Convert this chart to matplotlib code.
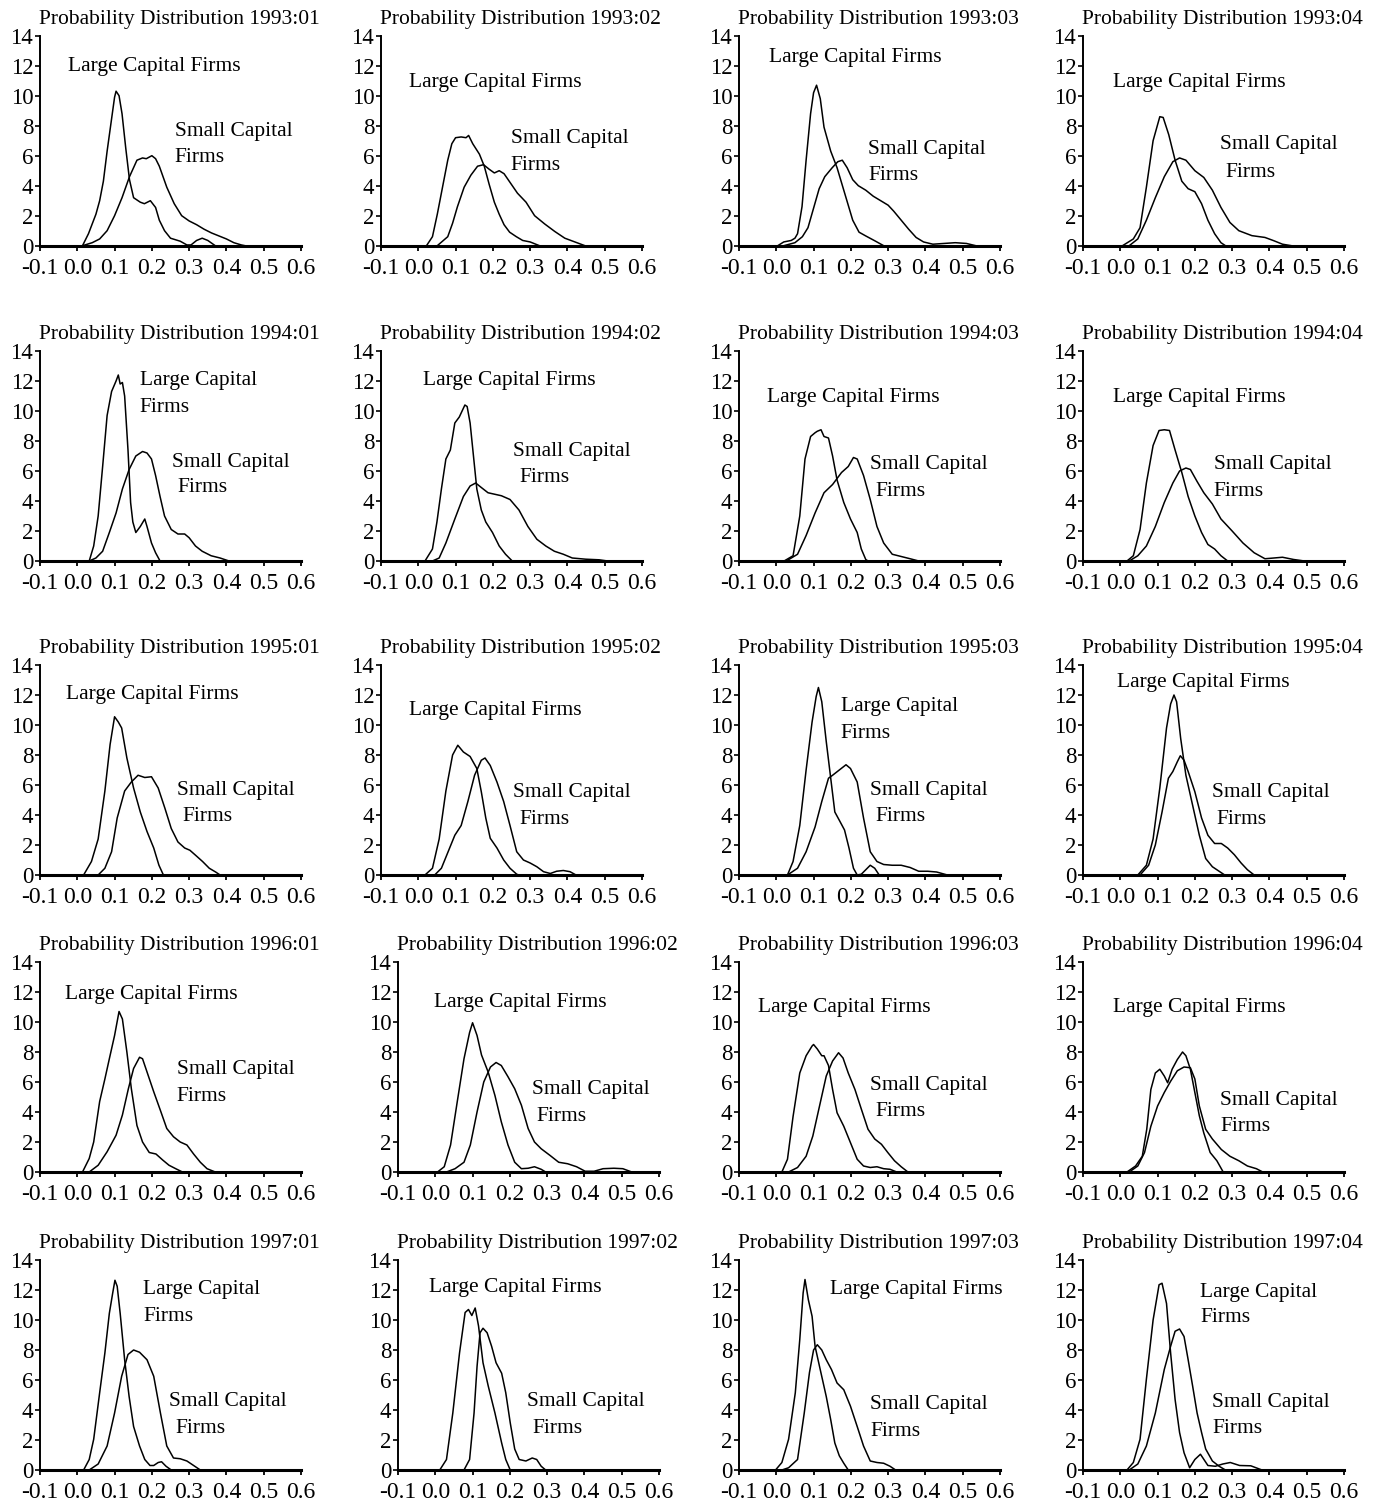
import matplotlib.pyplot as plt
from matplotlib.transforms import offset_copy

plt.rcParams['font.family'] = ['Liberation Serif', 'DejaVu Serif']
plt.rcParams['axes.unicode_minus'] = False

quarters = ['1993:01', '1993:02', '1993:03', '1993:04',
            '1994:01', '1994:02', '1994:03', '1994:04',
            '1995:01', '1995:02', '1995:03', '1995:04',
            '1996:01', '1996:02', '1996:03', '1996:04',
            '1997:01', '1997:02', '1997:03', '1997:04']

# ---- density curves (x = return, y = density) ----
q9301_large_x = [0.014, 0.03, 0.05, 0.06, 0.07, 0.08, 0.09, 0.1, 0.104, 0.112, 0.12, 0.13, 0.14, 0.151, 0.169, 0.18, 0.196, 0.21, 0.22, 0.234, 0.25, 0.276, 0.294, 0.305, 0.32, 0.335, 0.35, 0.37]
q9301_large_y = [0, 0.8, 2.1, 3.0, 4.3, 6.3, 8.1, 9.9, 10.3, 10.0, 8.8, 6.5, 4.4, 3.2, 2.9, 2.8, 3.0, 2.55, 1.7, 1.0, 0.5, 0.3, 0.05, 0.05, 0.35, 0.5, 0.35, 0]
q9301_small_x = [0.014, 0.04, 0.06, 0.08, 0.1, 0.12, 0.14, 0.16, 0.175, 0.185, 0.2, 0.21, 0.22, 0.24, 0.26, 0.28, 0.3, 0.32, 0.34, 0.36, 0.38, 0.4, 0.42, 0.44, 0.45]
q9301_small_y = [0, 0.2, 0.45, 1.0, 2.0, 3.2, 4.6, 5.7, 5.85, 5.8, 6.0, 5.8, 5.3, 3.9, 2.8, 2.0, 1.65, 1.4, 1.1, 0.85, 0.65, 0.45, 0.2, 0.05, 0]

q9302_large_x = [0.022, 0.038, 0.051, 0.065, 0.079, 0.09, 0.1, 0.115, 0.128, 0.135, 0.146, 0.164, 0.177, 0.19, 0.204, 0.217, 0.23, 0.245, 0.263, 0.28, 0.3, 0.325]
q9302_large_y = [0, 0.6, 2.1, 3.9, 5.7, 6.8, 7.2, 7.25, 7.2, 7.35, 6.8, 6.1, 5.3, 4.1, 2.9, 2.1, 1.4, 0.9, 0.6, 0.35, 0.25, 0]
q9302_small_x = [0.051, 0.065, 0.079, 0.092, 0.105, 0.123, 0.141, 0.159, 0.175, 0.19, 0.204, 0.217, 0.23, 0.248, 0.266, 0.289, 0.312, 0.339, 0.366, 0.393, 0.42, 0.447]
q9302_small_y = [0, 0.3, 0.6, 1.5, 2.6, 3.9, 4.7, 5.3, 5.4, 5.1, 4.85, 5.0, 4.8, 4.15, 3.5, 2.9, 2.0, 1.45, 0.95, 0.5, 0.25, 0]

q9303_large_x = [0.004, 0.02, 0.04, 0.05, 0.057, 0.069, 0.08, 0.092, 0.1, 0.108, 0.118, 0.128, 0.146, 0.163, 0.187, 0.205, 0.222, 0.24, 0.264, 0.288]
q9303_large_y = [0, 0.25, 0.35, 0.5, 0.8, 2.6, 5.7, 8.8, 10.2, 10.7, 9.8, 7.9, 6.3, 5.2, 3.2, 1.7, 0.9, 0.65, 0.33, 0]
q9303_small_x = [0.02, 0.05, 0.07, 0.085, 0.1, 0.115, 0.13, 0.15, 0.165, 0.177, 0.19, 0.205, 0.22, 0.24, 0.26, 0.28, 0.3, 0.315, 0.335, 0.355, 0.375, 0.395, 0.42, 0.45, 0.48, 0.51, 0.535]
q9303_small_y = [0, 0.2, 0.6, 1.2, 2.5, 3.8, 4.6, 5.2, 5.6, 5.7, 5.2, 4.4, 4.0, 3.7, 3.3, 3.0, 2.7, 2.3, 1.7, 1.1, 0.55, 0.25, 0.1, 0.15, 0.2, 0.15, 0]

q9304_large_x = [0.006, 0.035, 0.053, 0.07, 0.088, 0.106, 0.115, 0.13, 0.147, 0.165, 0.182, 0.2, 0.218, 0.235, 0.253, 0.27, 0.282]
q9304_large_y = [0, 0.45, 1.2, 3.9, 7.0, 8.6, 8.55, 7.4, 5.7, 4.3, 3.8, 3.6, 2.8, 1.7, 0.8, 0.2, 0]
q9304_small_x = [0.024, 0.047, 0.07, 0.094, 0.118, 0.141, 0.159, 0.176, 0.2, 0.224, 0.247, 0.27, 0.294, 0.318, 0.353, 0.388, 0.412, 0.435, 0.459]
q9304_small_y = [0, 0.45, 1.7, 3.2, 4.6, 5.6, 5.85, 5.7, 5.0, 4.55, 3.7, 2.55, 1.55, 1.0, 0.67, 0.55, 0.33, 0.1, 0]

q9401_large_x = [0.032, 0.044, 0.056, 0.068, 0.08, 0.092, 0.104, 0.11, 0.115, 0.121, 0.127, 0.136, 0.143, 0.149, 0.157, 0.169, 0.181, 0.187, 0.199, 0.21, 0.222]
q9401_large_y = [0, 1.0, 3.0, 6.3, 9.7, 11.3, 12.0, 12.4, 11.8, 11.9, 11.0, 7.4, 3.9, 2.6, 1.9, 2.3, 2.8, 2.3, 1.2, 0.55, 0]
q9401_small_x = [0.032, 0.05, 0.068, 0.086, 0.104, 0.121, 0.139, 0.157, 0.175, 0.187, 0.199, 0.21, 0.222, 0.234, 0.252, 0.27, 0.288, 0.3, 0.317, 0.335, 0.359, 0.383, 0.407]
q9401_small_y = [0, 0.2, 0.65, 1.9, 3.2, 4.8, 6.1, 7.0, 7.3, 7.2, 6.8, 5.7, 4.3, 3.0, 2.1, 1.8, 1.8, 1.55, 1.0, 0.65, 0.35, 0.2, 0]

q9402_large_x = [0.018, 0.038, 0.05, 0.062, 0.074, 0.086, 0.098, 0.11, 0.125, 0.131, 0.139, 0.148, 0.157, 0.169, 0.181, 0.199, 0.217, 0.234, 0.252]
q9402_large_y = [0, 0.8, 2.6, 4.8, 6.8, 7.4, 9.2, 9.6, 10.4, 10.3, 9.2, 7.0, 4.8, 3.4, 2.6, 1.9, 1.0, 0.45, 0]
q9402_small_x = [0.038, 0.056, 0.074, 0.098, 0.121, 0.139, 0.154, 0.169, 0.187, 0.205, 0.223, 0.246, 0.27, 0.294, 0.318, 0.342, 0.365, 0.389, 0.413, 0.449, 0.485, 0.508]
q9402_small_y = [0, 0.2, 1.2, 2.8, 4.3, 5.0, 5.2, 4.9, 4.55, 4.45, 4.35, 4.1, 3.4, 2.3, 1.45, 1.0, 0.65, 0.45, 0.2, 0.12, 0.08, 0]

q9403_large_x = [0.021, 0.045, 0.063, 0.077, 0.092, 0.104, 0.11, 0.12, 0.128, 0.14, 0.151, 0.163, 0.181, 0.199, 0.217, 0.228, 0.24, 0.246]
q9403_large_y = [0, 0.35, 3.0, 6.8, 8.3, 8.55, 8.65, 8.75, 8.3, 8.2, 7.0, 5.4, 3.9, 2.8, 1.9, 0.8, 0.1, 0]
q9403_small_x = [0.027, 0.057, 0.08, 0.104, 0.128, 0.151, 0.175, 0.193, 0.207, 0.217, 0.234, 0.252, 0.27, 0.288, 0.311, 0.335, 0.359, 0.382]
q9403_small_y = [0, 0.45, 1.7, 3.2, 4.55, 5.1, 5.9, 6.3, 6.9, 6.8, 5.7, 4.1, 2.3, 1.2, 0.45, 0.3, 0.15, 0]

q9404_large_x = [0.018, 0.035, 0.053, 0.07, 0.088, 0.104, 0.118, 0.132, 0.147, 0.165, 0.182, 0.2, 0.218, 0.235, 0.253, 0.27, 0.288]
q9404_large_y = [0, 0.35, 2.1, 5.2, 7.7, 8.7, 8.75, 8.7, 7.4, 5.9, 4.3, 3.0, 1.9, 1.1, 0.8, 0.35, 0]
q9404_small_x = [0.024, 0.047, 0.07, 0.094, 0.118, 0.141, 0.159, 0.176, 0.188, 0.206, 0.224, 0.247, 0.27, 0.3, 0.329, 0.359, 0.388, 0.412, 0.435, 0.465, 0.494]
q9404_small_y = [0, 0.35, 1.0, 2.3, 3.9, 5.2, 6.0, 6.2, 6.1, 5.3, 4.55, 3.8, 2.8, 2.0, 1.2, 0.55, 0.15, 0.2, 0.25, 0.1, 0]

q9501_large_x = [0.017, 0.038, 0.056, 0.074, 0.088, 0.1, 0.11, 0.119, 0.133, 0.151, 0.169, 0.187, 0.205, 0.219, 0.231]
q9501_large_y = [0, 0.9, 2.4, 5.6, 8.7, 10.55, 10.2, 9.8, 7.8, 5.8, 4.2, 2.9, 1.8, 0.65, 0]
q9501_small_x = [0.056, 0.074, 0.092, 0.107, 0.127, 0.145, 0.163, 0.181, 0.199, 0.217, 0.235, 0.252, 0.27, 0.288, 0.302, 0.318, 0.336, 0.354, 0.371, 0.383]
q9501_small_y = [0, 0.45, 1.55, 3.8, 5.6, 6.2, 6.65, 6.5, 6.55, 5.8, 4.45, 3.1, 2.2, 1.8, 1.65, 1.3, 0.9, 0.45, 0.2, 0]

q9502_large_x = [0.018, 0.038, 0.056, 0.074, 0.092, 0.106, 0.121, 0.139, 0.157, 0.169, 0.181, 0.193, 0.211, 0.229, 0.246, 0.264, 0.27]
q9502_large_y = [0, 0.45, 2.4, 5.6, 8.0, 8.65, 8.2, 7.9, 7.1, 5.55, 3.8, 2.45, 1.8, 1.0, 0.45, 0.05, 0]
q9502_small_x = [0.044, 0.062, 0.08, 0.098, 0.115, 0.133, 0.151, 0.169, 0.179, 0.193, 0.211, 0.229, 0.246, 0.264, 0.282, 0.3, 0.318, 0.336, 0.354, 0.371, 0.389, 0.407, 0.423]
q9502_small_y = [0, 0.45, 1.55, 2.65, 3.3, 4.9, 6.65, 7.65, 7.8, 7.3, 6.2, 4.9, 3.3, 1.55, 1.0, 0.8, 0.55, 0.22, 0.1, 0.25, 0.3, 0.22, 0]

q9503_large_x = [0.03, 0.045, 0.063, 0.08, 0.096, 0.107, 0.113, 0.122, 0.134, 0.146, 0.157, 0.169, 0.183, 0.195, 0.207, 0.217, 0.228, 0.24, 0.252, 0.264, 0.276]
q9503_large_y = [0, 0.9, 3.3, 7.0, 10.2, 11.9, 12.5, 11.55, 8.9, 6.45, 4.2, 3.65, 3.0, 1.8, 0.45, 0, 0.05, 0.35, 0.65, 0.45, 0]
q9503_small_x = [0.03, 0.057, 0.08, 0.104, 0.122, 0.14, 0.151, 0.169, 0.187, 0.199, 0.217, 0.234, 0.252, 0.27, 0.288, 0.311, 0.335, 0.359, 0.382, 0.406, 0.43, 0.459]
q9503_small_y = [0, 0.45, 1.55, 3.2, 4.9, 6.45, 6.65, 7.0, 7.35, 7.1, 6.2, 3.8, 1.55, 0.9, 0.7, 0.65, 0.65, 0.5, 0.25, 0.25, 0.2, 0]

q9504_large_x = [0.047, 0.07, 0.088, 0.106, 0.124, 0.135, 0.144, 0.151, 0.162, 0.176, 0.194, 0.212, 0.229, 0.247, 0.265, 0.28]
q9504_large_y = [0, 0.65, 2.4, 5.8, 9.8, 11.4, 12.0, 11.55, 9.1, 6.65, 4.65, 2.65, 1.1, 0.55, 0.25, 0]
q9504_small_x = [0.053, 0.076, 0.094, 0.112, 0.129, 0.141, 0.153, 0.161, 0.171, 0.182, 0.2, 0.218, 0.235, 0.253, 0.271, 0.288, 0.306, 0.324, 0.341, 0.359]
q9504_small_y = [0, 0.65, 2.0, 4.2, 6.45, 6.9, 7.55, 7.95, 7.65, 6.9, 5.55, 3.8, 2.65, 2.1, 2.1, 1.8, 1.35, 0.8, 0.35, 0]

q9601_large_x = [0.014, 0.032, 0.044, 0.06, 0.074, 0.086, 0.1, 0.112, 0.121, 0.133, 0.145, 0.16, 0.175, 0.193, 0.211, 0.229, 0.246, 0.264, 0.282]
q9601_large_y = [0, 0.9, 2.0, 4.7, 6.2, 7.55, 9.1, 10.7, 10.2, 8.0, 5.55, 3.1, 2.0, 1.3, 1.2, 0.8, 0.45, 0.22, 0]
q9601_small_x = [0.032, 0.056, 0.08, 0.104, 0.121, 0.137, 0.151, 0.167, 0.175, 0.19, 0.205, 0.223, 0.24, 0.258, 0.276, 0.294, 0.312, 0.33, 0.348, 0.37]
q9601_small_y = [0, 0.45, 1.35, 2.45, 3.8, 5.55, 6.9, 7.65, 7.55, 6.45, 5.35, 4.1, 2.9, 2.35, 2.0, 1.8, 1.2, 0.65, 0.22, 0]

q9602_large_x = [0.006, 0.024, 0.041, 0.059, 0.077, 0.092, 0.1, 0.112, 0.124, 0.142, 0.16, 0.177, 0.195, 0.213, 0.231, 0.249, 0.266, 0.284, 0.296]
q9602_large_y = [0, 0.35, 1.8, 4.7, 7.55, 9.3, 9.95, 9.1, 7.8, 6.65, 5.1, 3.35, 1.8, 0.65, 0.22, 0.25, 0.35, 0.18, 0]
q9602_small_x = [0.03, 0.053, 0.077, 0.094, 0.112, 0.13, 0.148, 0.163, 0.177, 0.195, 0.213, 0.231, 0.249, 0.266, 0.284, 0.308, 0.331, 0.355, 0.379, 0.402, 0.426, 0.45, 0.479, 0.503, 0.527]
q9602_small_y = [0, 0.22, 0.65, 1.8, 4.0, 6.0, 7.0, 7.3, 7.1, 6.35, 5.55, 4.45, 2.9, 2.0, 1.55, 1.1, 0.65, 0.55, 0.35, 0.05, 0.05, 0.22, 0.25, 0.22, 0]

q9603_large_x = [0.015, 0.03, 0.045, 0.063, 0.08, 0.096, 0.1, 0.11, 0.122, 0.128, 0.14, 0.151, 0.163, 0.181, 0.199, 0.217, 0.234, 0.252, 0.27, 0.288, 0.305, 0.323]
q9603_large_y = [0, 0.85, 3.7, 6.6, 7.75, 8.4, 8.5, 8.2, 7.75, 7.75, 7.1, 5.5, 3.95, 3.05, 1.95, 0.85, 0.4, 0.3, 0.35, 0.22, 0.18, 0]
q9603_small_x = [0.033, 0.057, 0.08, 0.098, 0.116, 0.134, 0.151, 0.167, 0.179, 0.193, 0.211, 0.228, 0.246, 0.264, 0.282, 0.299, 0.317, 0.335, 0.353]
q9603_small_y = [0, 0.3, 1.05, 2.4, 4.4, 6.4, 7.4, 7.95, 7.6, 6.6, 5.5, 4.2, 2.85, 2.2, 1.85, 1.3, 0.75, 0.35, 0]

q9604_large_x = [0.018, 0.041, 0.059, 0.071, 0.082, 0.094, 0.106, 0.118, 0.127, 0.139, 0.153, 0.167, 0.176, 0.188, 0.2, 0.212, 0.224, 0.241, 0.259, 0.276]
q9604_large_y = [0, 0.4, 1.05, 2.85, 5.5, 6.6, 6.85, 6.4, 5.95, 6.85, 7.5, 8.0, 7.75, 6.85, 5.3, 3.75, 2.6, 1.3, 0.75, 0]
q9604_small_x = [0.024, 0.047, 0.065, 0.082, 0.1, 0.118, 0.135, 0.153, 0.171, 0.188, 0.2, 0.212, 0.229, 0.247, 0.271, 0.294, 0.318, 0.341, 0.365, 0.382]
q9604_small_y = [0, 0.4, 1.3, 3.05, 4.4, 5.3, 6.05, 6.75, 7.0, 6.95, 6.2, 4.4, 2.85, 2.2, 1.5, 1.05, 0.75, 0.4, 0.22, 0]

q9701_large_x = [0.017, 0.032, 0.044, 0.06, 0.074, 0.086, 0.095, 0.101, 0.107, 0.115, 0.127, 0.139, 0.151, 0.167, 0.181, 0.195, 0.205, 0.217, 0.226, 0.238, 0.252]
q9701_large_y = [0, 0.7, 2.05, 5.15, 7.8, 10.45, 11.8, 12.65, 12.25, 10.45, 7.35, 4.9, 2.9, 1.6, 0.7, 0.3, 0.3, 0.5, 0.55, 0.25, 0]
q9701_small_x = [0.032, 0.056, 0.08, 0.1, 0.119, 0.136, 0.151, 0.167, 0.187, 0.205, 0.223, 0.24, 0.258, 0.276, 0.294, 0.312, 0.33]
q9701_small_y = [0, 0.4, 1.6, 3.8, 6.25, 7.7, 8.0, 7.85, 7.35, 6.25, 3.8, 1.6, 0.8, 0.75, 0.6, 0.3, 0]

q9702_large_x = [0.012, 0.03, 0.047, 0.065, 0.08, 0.089, 0.098, 0.107, 0.116, 0.128, 0.142, 0.16, 0.178, 0.189, 0.201]
q9702_large_y = [0, 0.7, 3.8, 7.8, 10.5, 10.7, 10.3, 10.8, 9.6, 7.15, 5.6, 3.8, 1.8, 0.7, 0]
q9702_small_x = [0.077, 0.092, 0.104, 0.112, 0.12, 0.128, 0.139, 0.151, 0.163, 0.178, 0.189, 0.201, 0.213, 0.225, 0.243, 0.26, 0.272, 0.284, 0.296]
q9702_small_y = [0, 0.7, 3.8, 6.9, 9.15, 9.45, 9.15, 8.25, 7.15, 6.45, 5.15, 3.15, 1.4, 0.7, 0.6, 0.8, 0.7, 0.25, 0]

q9703_large_x = [-0.002, 0.015, 0.033, 0.051, 0.063, 0.072, 0.077, 0.086, 0.096, 0.104, 0.116, 0.134, 0.146, 0.157, 0.169, 0.181, 0.193]
q9703_large_y = [0, 0.5, 2.05, 5.15, 8.7, 11.8, 12.7, 11.35, 10.25, 8.25, 6.9, 4.9, 3.35, 1.8, 0.95, 0.45, 0]
q9703_small_x = [0.015, 0.033, 0.057, 0.075, 0.089, 0.1, 0.11, 0.122, 0.134, 0.148, 0.163, 0.181, 0.199, 0.217, 0.234, 0.252, 0.27, 0.288, 0.305, 0.32]
q9703_small_y = [0, 0.15, 0.7, 3.8, 6.5, 8.0, 8.35, 8.0, 7.35, 6.7, 5.8, 5.35, 4.25, 2.9, 1.6, 0.6, 0.5, 0.45, 0.25, 0]

q9704_large_x = [0.018, 0.035, 0.053, 0.07, 0.088, 0.104, 0.112, 0.124, 0.135, 0.147, 0.159, 0.171, 0.186, 0.2, 0.215, 0.235, 0.255, 0.275, 0.295, 0.32, 0.35, 0.38]
q9704_large_y = [0, 0.5, 2.05, 6.05, 10.0, 12.35, 12.45, 11.1, 7.8, 4.7, 2.5, 1.15, 0.15, 0.7, 1.05, 0.3, 0.25, 0.4, 0.5, 0.3, 0.28, 0]
q9704_small_x = [0.024, 0.047, 0.07, 0.094, 0.118, 0.135, 0.147, 0.159, 0.171, 0.182, 0.194, 0.206, 0.218, 0.229, 0.247, 0.265, 0.282]
q9704_small_y = [0, 0.4, 1.6, 3.8, 6.7, 8.25, 9.25, 9.4, 8.9, 7.35, 5.6, 3.8, 2.5, 1.4, 0.6, 0.25, 0]

large_x = [q9301_large_x, q9302_large_x, q9303_large_x, q9304_large_x,
           q9401_large_x, q9402_large_x, q9403_large_x, q9404_large_x,
           q9501_large_x, q9502_large_x, q9503_large_x, q9504_large_x,
           q9601_large_x, q9602_large_x, q9603_large_x, q9604_large_x,
           q9701_large_x, q9702_large_x, q9703_large_x, q9704_large_x]
large_y = [q9301_large_y, q9302_large_y, q9303_large_y, q9304_large_y,
           q9401_large_y, q9402_large_y, q9403_large_y, q9404_large_y,
           q9501_large_y, q9502_large_y, q9503_large_y, q9504_large_y,
           q9601_large_y, q9602_large_y, q9603_large_y, q9604_large_y,
           q9701_large_y, q9702_large_y, q9703_large_y, q9704_large_y]
small_x = [q9301_small_x, q9302_small_x, q9303_small_x, q9304_small_x,
           q9401_small_x, q9402_small_x, q9403_small_x, q9404_small_x,
           q9501_small_x, q9502_small_x, q9503_small_x, q9504_small_x,
           q9601_small_x, q9602_small_x, q9603_small_x, q9604_small_x,
           q9701_small_x, q9702_small_x, q9703_small_x, q9704_small_x]
small_y = [q9301_small_y, q9302_small_y, q9303_small_y, q9304_small_y,
           q9401_small_y, q9402_small_y, q9403_small_y, q9404_small_y,
           q9501_small_y, q9502_small_y, q9503_small_y, q9504_small_y,
           q9601_small_y, q9602_small_y, q9603_small_y, q9604_small_y,
           q9701_small_y, q9702_small_y, q9703_small_y, q9704_small_y]

# label placement (data coords): large -> (x, y, y of 2nd line or None), small -> (x1, y1, x2, y2)
large_lab = [(-0.024, 12.1, None), (-0.024, 11.07, None), (-0.02, 12.7, None), (-0.02, 11.07, None),
             (0.168, 12.18, 10.38), (0.012, 12.2, None), (-0.024, 11.07, None), (-0.02, 11.07, None),
             (-0.03, 12.2, None), (-0.024, 11.15, None), (0.173, 11.38, 9.6), (-0.008, 12.98, None),
             (-0.033, 12.0, None), (-0.004, 11.46, None), (-0.05, 11.1, None), (-0.02, 11.1, None),
             (0.177, 12.17, 10.4), (-0.018, 12.35, None), (0.143, 12.17, None), (0.215, 12.0, 10.3)]
small_lab = [(0.261, 7.8, 0.261, 6.04), (0.248, 7.33, 0.248, 5.51), (0.246, 6.6, 0.246, 4.82), (0.268, 6.9, 0.282, 5.04),
             (0.255, 6.76, 0.269, 5.04), (0.254, 7.49, 0.27, 5.71), (0.252, 6.6, 0.266, 4.82), (0.251, 6.6, 0.251, 4.82),
             (0.267, 5.82, 0.281, 4.04), (0.255, 5.67, 0.27, 3.89), (0.252, 5.82, 0.266, 4.04), (0.245, 5.67, 0.259, 3.89),
             (0.267, 6.97, 0.267, 5.2), (0.26, 5.64, 0.27, 3.87), (0.252, 5.96, 0.266, 4.18), (0.268, 4.96, 0.268, 3.18),
             (0.246, 4.7, 0.263, 2.93), (0.245, 4.7, 0.26, 2.93), (0.252, 4.52, 0.252, 2.75), (0.247, 4.66, 0.247, 2.93)]

W, H = 1380, 1504
fig = plt.figure(figsize=(W / 100, H / 100), dpi=100)

col_px = [40, 381, 739, 1083]
row_zero_px = [245.7, 561, 875, 1172, 1470]
ax_w, ax_h = 261, 210

for k, q in enumerate(quarters):
    r, c = divmod(k, 4)
    left = col_px[c]
    if c == 1 and r >= 3:
        left = 398
    ax = fig.add_axes([left / W, 1 - row_zero_px[r] / H, ax_w / W, ax_h / H])
    ax.plot(large_x[k], large_y[k], color='black', lw=1.1, clip_on=False)
    ax.plot(small_x[k], small_y[k], color='black', lw=1.1, clip_on=False)
    ax.set_xlim(-0.1, 0.6)
    ax.set_ylim(0, 14)
    ax.set_xticks([-0.1, 0.0, 0.1, 0.2, 0.3, 0.4, 0.5, 0.6])
    ax.set_xticklabels(['-0.1', '0.0', '0.1', '0.2', '0.3', '0.4', '0.5', '0.6'])
    ax.set_yticks(range(0, 15, 2))
    ax.spines['top'].set_visible(False)
    ax.spines['right'].set_visible(False)
    ax.spines['left'].set_linewidth(1.4)
    ax.spines['bottom'].set_linewidth(2.2)
    ax.tick_params(axis='x', direction='out', length=3.6, width=1.3, pad=5, labelsize=17)
    ax.tick_params(axis='y', direction='out', length=3.4, width=1.2, pad=1.5, labelsize=16.5)
    ax.patch.set_visible(False)

    ax.text(0.535, 1.058, 'Probability Distribution ' + q, transform=ax.transAxes,
            ha='center', va='baseline', fontsize=15.5)

    tr = offset_copy(ax.transData, fig=fig, y=-5, units='points')
    lx, ly, ly2 = large_lab[k]
    if ly2 is None:
        ax.text(lx, ly, 'Large Capital Firms', transform=tr, fontsize=15.5, ha='left', va='baseline')
    else:
        ax.text(lx, ly, 'Large Capital', transform=tr, fontsize=15.5, ha='left', va='baseline')
        ax.text(lx, ly2, 'Firms', transform=tr, fontsize=15.5, ha='left', va='baseline')
    sx1, sy1, sx2, sy2 = small_lab[k]
    ax.text(sx1, sy1, 'Small Capital', transform=tr, fontsize=15.5, ha='left', va='baseline')
    ax.text(sx2, sy2, 'Firms', transform=tr, fontsize=15.5, ha='left', va='baseline')

fig.savefig('out.png', dpi=100)
